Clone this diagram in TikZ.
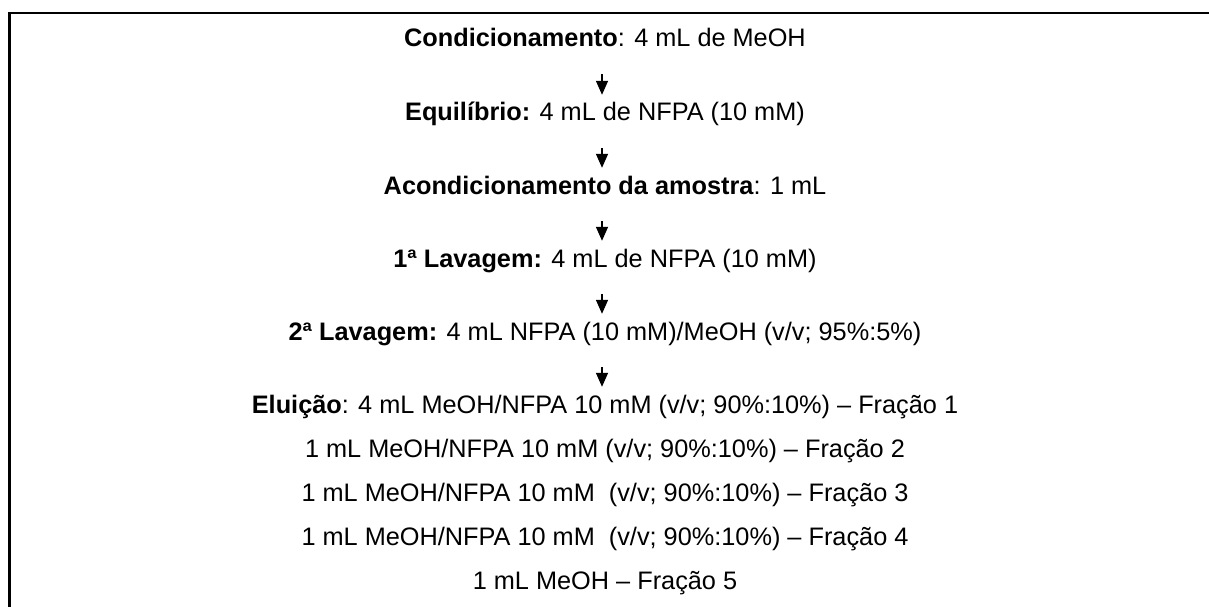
\documentclass[tikz,border=0pt]{standalone}
\usepackage{fontspec}
\setmainfont{Liberation Sans}
\usetikzlibrary{arrows.meta}
\tikzset{
  steptext/.style={anchor=base, inner sep=0pt, text height=18pt, text depth=5pt, font=\fontsize{25.3}{30}\selectfont},
  flowarrow/.style={line width=1.5pt, -{Triangle[width=12pt,length=14pt]}, shorten <=22pt, shorten >=8pt},
  frameline/.style={line width=2.6pt, line join=miter}
}
\begin{document}
\begin{tikzpicture}[x=1pt,y=-1pt]
\useasboundingbox (0,0) rectangle (1209,607);
\coordinate (fr1) at (1209,13);
\coordinate (fr2) at (9.5,13);
\coordinate (fr3) at (9.5,607);
\draw[frameline] (fr1) -- (fr2) -- (fr3);
\node[steptext] (s1) at (605,47) {\textbf{Condicionamento}: 4 mL de MeOH};
\node[steptext] (s2) at (605,121) {\textbf{Equilíbrio:} 4 mL de NFPA (10 mM)};
\node[steptext] (s3) at (605,194) {\textbf{Acondicionamento da amostra}: 1 mL};
\node[steptext] (s4) at (605,267) {\textbf{1ª Lavagem:} 4 mL de NFPA (10 mM)};
\node[steptext] (s5) at (605,340) {\textbf{2ª Lavagem:} 4 mL NFPA (10 mM)/MeOH (v/v; 95\%:5\%)};
\node[steptext] (s6) at (605,413) {\textbf{Eluição}: 4 mL MeOH/NFPA 10 mM (v/v; 90\%:10\%) – Fração 1};
\node[steptext] (f2) at (605,457) {1 mL MeOH/NFPA 10 mM (v/v; 90\%:10\%) – Fração 2};
\node[steptext] (f3) at (605,501) {1 mL MeOH/NFPA 10 mM\ \ (v/v; 90\%:10\%) – Fração 3};
\node[steptext] (f4) at (605,545) {1 mL MeOH/NFPA 10 mM\ \ (v/v; 90\%:10\%) – Fração 4};
\node[steptext] (f5) at (605,589) {1 mL MeOH – Fração 5};
\draw[flowarrow] ([xshift=-3pt]s1.south) -- ([xshift=-3pt]s2.north);
\draw[flowarrow] ([xshift=-3pt]s2.south) -- ([xshift=-3pt]s3.north);
\draw[flowarrow] ([xshift=-3pt]s3.south) -- ([xshift=-3pt]s4.north);
\draw[flowarrow] ([xshift=-3pt]s4.south) -- ([xshift=-3pt]s5.north);
\draw[flowarrow] ([xshift=-3pt]s5.south) -- ([xshift=-3pt]s6.north);
\end{tikzpicture}
\end{document}
